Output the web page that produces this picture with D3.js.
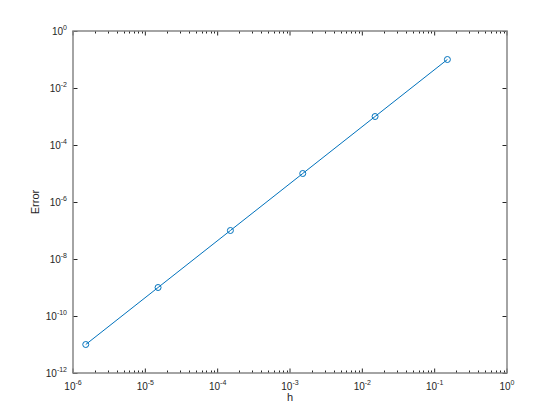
<!DOCTYPE html>
<html>
<head>
<meta charset="utf-8">
<script src="https://cdn.jsdelivr.net/npm/d3@7"></script>
<style>
  body { margin: 0; background: #fff; }
  text { font-family: "Liberation Sans", Arial, Helvetica, sans-serif; fill: #262626; }
</style>
</head>
<body>
<svg id="chart" width="560" height="420"></svg>
<script>
// step sizes and the measured error
const hValues = [1.5e-6, 1.5e-5, 1.5e-4, 1.5e-3, 1.5e-2, 1.5e-1];
const errValues = [1e-11, 1e-9, 1e-7, 1e-5, 1e-3, 1e-1];
const xTickExps = [-6, -5, -4, -3, -2, -1, 0];
const yTickExps = [-12, -10, -8, -6, -4, -2, 0];

const margin = { top: 31, right: 53, bottom: 47, left: 73 };
const width = 560, height = 420;
const plotW = width - margin.left - margin.right;
const plotH = height - margin.top - margin.bottom;

const svg = d3.select("#chart");
const g = svg.append("g")
  .attr("transform", "translate(" + margin.left + "," + margin.top + ")");

const x = d3.scaleLog().domain([1e-6, 1]).range([0, plotW]);
const y = d3.scaleLog().domain([1e-12, 1]).range([plotH, 0]);

const axisColor = "#868686";
const majorLen = 4.5, minorLen = 2.5;

// minor x ticks (2..9 within each decade)
let minorX = [];
xTickExps.slice(0, -1).forEach(e => {
  for (let k = 2; k <= 9; k++) minorX.push(k * Math.pow(10, e));
});

// ticks on bottom and top edges
[plotH, 0].forEach((edge, i) => {
  let dir = i == 0 ? -1 : 1;
  g.selectAll(null).data(xTickExps).enter().append("line")
    .attr("x1", d => x(Math.pow(10, d))).attr("x2", d => x(Math.pow(10, d)))
    .attr("y1", edge).attr("y2", edge + dir * majorLen)
    .attr("stroke", "#262626").attr("stroke-width", 1);
  g.selectAll(null).data(minorX).enter().append("line")
    .attr("x1", d => Math.round(x(d)) + 0.5).attr("x2", d => Math.round(x(d)) + 0.5)
    .attr("y1", edge).attr("y2", edge + dir * minorLen)
    .attr("stroke", "#262626").attr("stroke-width", 1);
});

// ticks on left and right edges
[0, plotW].forEach((edge, i) => {
  let dir = i == 0 ? 1 : -1;
  g.selectAll(null).data(yTickExps).enter().append("line")
    .attr("x1", edge).attr("x2", edge + dir * majorLen)
    .attr("y1", d => Math.round(y(Math.pow(10, d))) + 0.5)
    .attr("y2", d => Math.round(y(Math.pow(10, d))) + 0.5)
    .attr("stroke", "#262626").attr("stroke-width", 1);
});

// box
g.append("rect")
  .attr("x", 0).attr("y", 0).attr("width", plotW).attr("height", plotH)
  .attr("fill", "none").attr("stroke", axisColor).attr("stroke-width", 1.5);

// x tick labels
let xl = g.selectAll(null).data(xTickExps).enter().append("text")
  .attr("x", d => x(Math.pow(10, d)))
  .attr("y", plotH + 17)
  .attr("text-anchor", "middle")
  .attr("font-size", "10px");
xl.append("tspan").text("10");
xl.append("tspan").attr("dy", -5).attr("font-size", "7px").text(d => d == 0 ? "0" : "-" + Math.abs(d));

// y tick labels
let yl = g.selectAll(null).data(yTickExps).enter().append("text")
  .attr("x", -6)
  .attr("y", d => y(Math.pow(10, d)) + 4)
  .attr("text-anchor", "end")
  .attr("font-size", "10px");
yl.append("tspan").text("10");
yl.append("tspan").attr("dy", -5).attr("font-size", "7px").text(d => d == 0 ? "0" : "-" + Math.abs(d));

// axis labels
g.append("text")
  .attr("x", plotW / 2).attr("y", plotH + 28)
  .attr("text-anchor", "middle").attr("font-size", "11px")
  .text("h");

g.append("text")
  .attr("transform", "translate(-34," + (plotH / 2) + ") rotate(-90)")
  .attr("text-anchor", "middle").attr("font-size", "11px")
  .text("Error");

// data line and markers
const pts = hValues.map((h, i) => [h, errValues[i]]);
const blue = "#0072bd";

g.append("path")
  .datum(pts)
  .attr("fill", "none")
  .attr("stroke", blue)
  .attr("stroke-width", 1)
  .attr("d", d3.line().x(d => x(d[0])).y(d => y(d[1])));

g.selectAll("circle.pt").data(pts).enter().append("circle")
  .attr("class", "pt")
  .attr("cx", d => x(d[0])).attr("cy", d => y(d[1]))
  .attr("r", 3)
  .attr("fill", "none")
  .attr("stroke", blue)
  .attr("stroke-width", 1);
</script>
</body>
</html>
